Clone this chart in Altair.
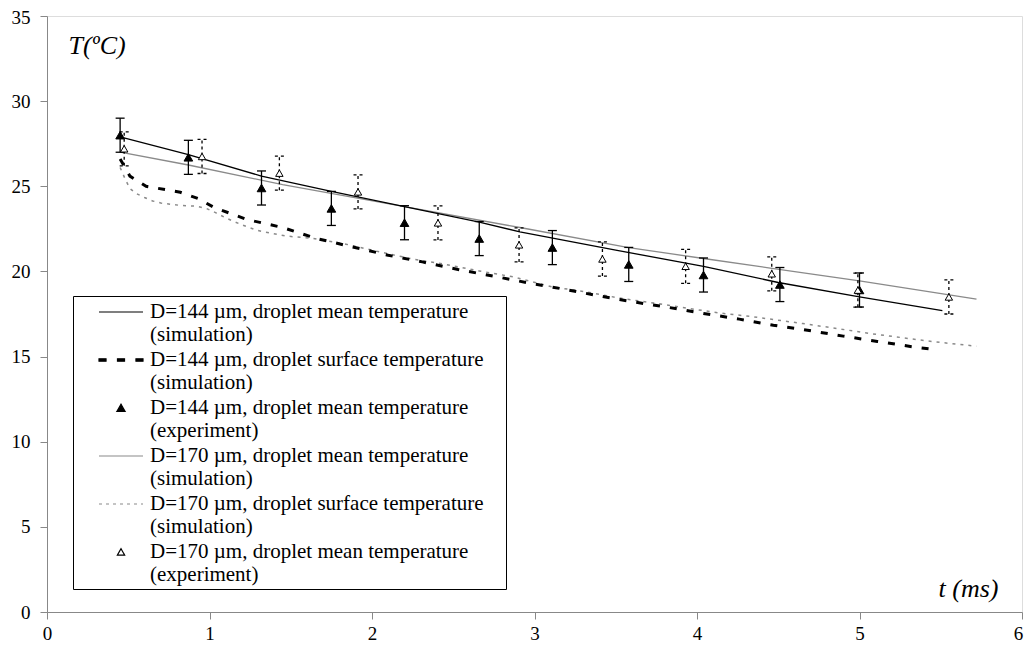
import altair as alt
import pandas as pd

# ---------------- data ----------------
# D=144 um, droplet mean temperature (simulation)
t_mean144 = [0.45, 0.87, 1.32, 1.75, 2.2, 2.66, 2.91, 3.5, 4.04, 4.5, 5.0, 5.51]
T_mean144 = [27.9, 26.86, 25.6, 24.7, 23.8, 22.9, 22.32, 21.25, 20.3, 19.35, 18.5, 17.7]

# D=144 um, droplet surface temperature (simulation)
t_surf144 = [0.45, 0.51, 0.61, 0.82, 0.93, 1.03, 1.23, 1.45, 1.66, 1.88, 2.1, 2.31,
             2.53, 2.75, 2.96, 3.18, 3.4, 3.61, 3.83, 4.04, 4.26, 4.47, 4.68, 4.9,
             5.11, 5.33, 5.45]
T_surf144 = [26.6, 25.6, 25.0, 24.65, 24.28, 23.75, 23.05, 22.58, 21.93, 21.44, 20.95, 20.56,
             20.11, 19.72, 19.33, 18.96, 18.56, 18.21, 17.88, 17.53, 17.2, 16.84, 16.55, 16.2,
             15.89, 15.57, 15.43]

# D=170 um, droplet mean temperature (simulation)
t_mean170 = [0.45, 0.87, 1.45, 2.2, 2.91, 3.58, 4.04, 4.45, 5.0, 5.72]
T_mean170 = [27.0, 26.25, 25.1, 23.8, 22.58, 21.4, 20.76, 20.2, 19.44, 18.37]

# D=170 um, droplet surface temperature (simulation)
t_surf170 = [0.45, 0.48, 0.51, 0.55, 0.6, 0.65, 0.7, 0.77, 0.83, 0.92, 0.98, 1.04,
             1.1, 1.19, 1.29, 1.39, 1.47, 1.64, 1.84, 2.05, 2.25, 2.46, 2.66, 2.87,
             3.11, 3.32, 3.52, 3.73, 3.94, 4.14, 4.35, 4.45, 4.65, 4.86, 5.06, 5.27,
             5.47, 5.72]
T_surf170 = [26.1, 25.45, 24.87, 24.57, 24.34, 24.14, 24.02, 23.93, 23.87, 23.83, 23.7, 23.44,
             23.14, 22.77, 22.42, 22.22, 22.08, 21.93, 21.6, 21.14, 20.73, 20.4, 20.03, 19.68,
             19.09, 18.8, 18.44, 18.15, 17.84, 17.56, 17.33, 17.2, 16.94, 16.65, 16.36, 16.1,
             15.86, 15.61]

# D=144 um, droplet mean temperature (experiment)
t_exp144 = [0.45, 0.87, 1.32, 1.75, 2.2, 2.66, 3.11, 3.58, 4.04, 4.51, 5.0]
T_exp144 = [28.0, 26.7, 24.9, 23.7, 22.86, 21.93, 21.4, 20.41, 19.79, 19.23, 18.91]
err_exp144 = [1.0] * 11

# D=170 um, droplet mean temperature (experiment)
t_exp170 = [0.475, 0.954, 1.43, 1.914, 2.406, 2.905, 3.418, 3.93, 4.46, 4.99, 5.55]
T_exp170 = [27.2, 26.75, 25.77, 24.67, 22.85, 21.56, 20.73, 20.3, 19.86, 18.9, 18.5]
err_exp170 = [1.0] * 11

SERIES = [
    "D=144 µm, droplet mean temperature|(simulation)",
    "D=144 µm, droplet surface temperature|(simulation)",
    "D=144 µm, droplet mean temperature|(experiment)",
    "D=170 µm, droplet mean temperature|(simulation)",
    "D=170 µm, droplet surface temperature|(simulation)",
    "D=170 µm, droplet mean temperature|(experiment)",
]

# ---------------- tables ----------------
def line_df(t, T):
    return pd.DataFrame({"t": t, "T": T})

def exp_df(t, T, e):
    d = pd.DataFrame({"t": t, "T": T, "e": e})
    d["lo"] = d["T"] - d["e"]
    d["hi"] = d["T"] + d["e"]
    return d

df_m144 = line_df(t_mean144, T_mean144)
df_s144 = line_df(t_surf144, T_surf144)
df_m170 = line_df(t_mean170, T_mean170)
df_s170 = line_df(t_surf170, T_surf170)
df_e144 = exp_df(t_exp144, T_exp144, err_exp144)
df_e170 = exp_df(t_exp170, T_exp170, err_exp170)
df_legend = pd.DataFrame({"series": SERIES})

FONT = "Liberation Serif"
GRAY = "#8a8a8a"

xscale = alt.Scale(domain=[0, 6], nice=False, zero=False)
yscale = alt.Scale(domain=[0, 35], nice=False)

xaxis = alt.Axis(values=[0, 1, 2, 3, 4, 5, 6], format="d", grid=False, tickSize=7,
                 labelFont=FONT, labelFontSize=19, labelColor="black", labelPadding=5,
                 labelFlush=False,
                 labelOffset={"condition": {"test": "datum.value == 6", "value": -4}, "value": 0},
                 title="t (ms)", titleFont=FONT, titleFontSize=26,
                 titleFontStyle="italic", titleFontWeight="normal", titleColor="black",
                 titleX=951, titleY=-24, titleAlign="right", titleBaseline="middle")
yaxis = alt.Axis(values=[0, 5, 10, 15, 20, 25, 30, 35], format="d", grid=False, tickSize=7,
                 labelFont=FONT, labelFontSize=19, labelColor="black", labelPadding=10,
                 labelFlush=False,
                 labelOffset={"condition": {"test": "datum.value == 35", "value": 1}, "value": 0},
                 title="T(ºC)", titleFont=FONT, titleFontSize=26,
                 titleFontStyle="italic", titleFontWeight="normal", titleColor="black",
                 titleAngle=0, titleX=21, titleY=29, titleAlign="left", titleBaseline="middle")

X = alt.X("t:Q", scale=xscale, axis=xaxis)
X2 = alt.X2("t:Q")
Y = alt.Y("T:Q", scale=yscale, axis=yaxis)
Ylo = alt.Y("lo:Q", scale=yscale, axis=yaxis)
Yhi = alt.Y("hi:Q", scale=yscale, axis=yaxis)
Y2hi = alt.Y2("hi:Q")

# ---------------- simulation lines ----------------
l_s170 = alt.Chart(df_s170).mark_line(color=GRAY, strokeWidth=1.5, strokeDash=[3, 5]).encode(x=X, y=Y)
l_s144 = alt.Chart(df_s144).mark_line(color="black", strokeWidth=3, strokeDash=[7, 10]).encode(x=X, y=Y)
l_m170 = alt.Chart(df_m170).mark_line(color=GRAY, strokeWidth=1.3).encode(x=X, y=Y)
l_m144 = alt.Chart(df_m144).mark_line(color="black", strokeWidth=1.3).encode(x=X, y=Y)

# ---------------- error bars ----------------
def errbars(df, dash):
    kw = dict(color="black", strokeWidth=1.3)
    if dash:
        kw["strokeDash"] = [3, 3]
    v = alt.Chart(df).mark_rule(**kw).encode(x=X, y=Ylo, y2=Y2hi)
    c1 = alt.Chart(df).mark_rule(xOffset=-4.5, x2Offset=4.5, **kw).encode(x=X, x2=X2, y=Ylo)
    c2 = alt.Chart(df).mark_rule(xOffset=-4.5, x2Offset=4.5, **kw).encode(x=X, x2=X2, y=Yhi)
    return [v, c1, c2]

# ---------------- experimental points ----------------
p144 = alt.Chart(df_e144).mark_point(shape="triangle-up", filled=True, fill="black",
                                     stroke="black", strokeWidth=1, size=75, opacity=1).encode(x=X, y=Y)
p170 = alt.Chart(df_e170).mark_point(shape="triangle-up", filled=True, fill="white",
                                     stroke="black", strokeWidth=1, size=55, opacity=1).encode(x=X, y=Y)

# ---------------- legend ----------------
# custom symbol paths (unit = half of sqrt(symbolSize) = 11 px)
LINE = "M-2,0L2,0"
THICKDASH = ("M-2,-0.11H-1.36V0.11H-2Z M-0.32,-0.11H0.32V0.11H-0.32Z "
             "M1.36,-0.11H2V0.11H1.36Z")
TRI_F = "M0,-0.34L0.38,0.32L-0.38,0.32Z"
TRI_O = "M0,-0.3L0.33,0.28L-0.33,0.28Z"

label_expr = "split(datum.label, '|')"

leg = alt.Legend(title="\u00a0", titleOrient="right", titlePadding=18, titleFontSize=4,
                 orient="none", legendX=26, legendY=280, padding=4,
                 strokeColor="black", fillColor="white", symbolSize=484,
                 symbolOffset=32, symbolStrokeWidth=1.2, labelOffset=17,
                 labelFont=FONT, labelFontSize=21, labelColor="black", labelLimit=600,
                 labelBaseline="middle", labelExpr=label_expr,
                 rowPadding=3, symbolOpacity=1)

legend_layer = alt.Chart(df_legend).mark_point(size=484, opacity=1, strokeWidth=1.2).encode(
    shape=alt.Shape("series:N", legend=leg,
                    scale=alt.Scale(domain=SERIES, range=[LINE, THICKDASH, TRI_F, LINE, LINE, TRI_O])),
    stroke=alt.Stroke("series:N", legend=leg,
                      scale=alt.Scale(domain=SERIES, range=["black", "black", "black", GRAY, GRAY, "black"])),
    fill=alt.Fill("series:N", legend=leg,
                  scale=alt.Scale(domain=SERIES, range=["transparent", "black", "black",
                                                        "transparent", "transparent", "white"])),
    strokeDash=alt.StrokeDash("series:N", legend=leg,
                              scale=alt.Scale(domain=SERIES, range=[[1, 0], [1, 0], [1, 0], [1, 0],
                                                                    [3, 4], [1, 0]])),
).transform_filter("false")

layers = [l_s170, l_s144, l_m170, l_m144] + errbars(df_e144, False) + errbars(df_e170, True) \
    + [p144, p170, legend_layer]

chart = alt.layer(*layers).properties(
    width=975, height=596,
    padding={"left": 39, "top": 8, "right": 2, "bottom": 32},
    autosize=alt.AutoSizeParams(type="none"),
).configure_view(stroke="black", strokeWidth=1.3).configure_axis(
    domainColor="black", domainWidth=1.3, tickColor="black", tickWidth=1.3,
    labelFont=FONT, titleFont=FONT
).configure(background="white")

chart.save("out.html", embed_options={"renderer": "svg", "actions": False})
